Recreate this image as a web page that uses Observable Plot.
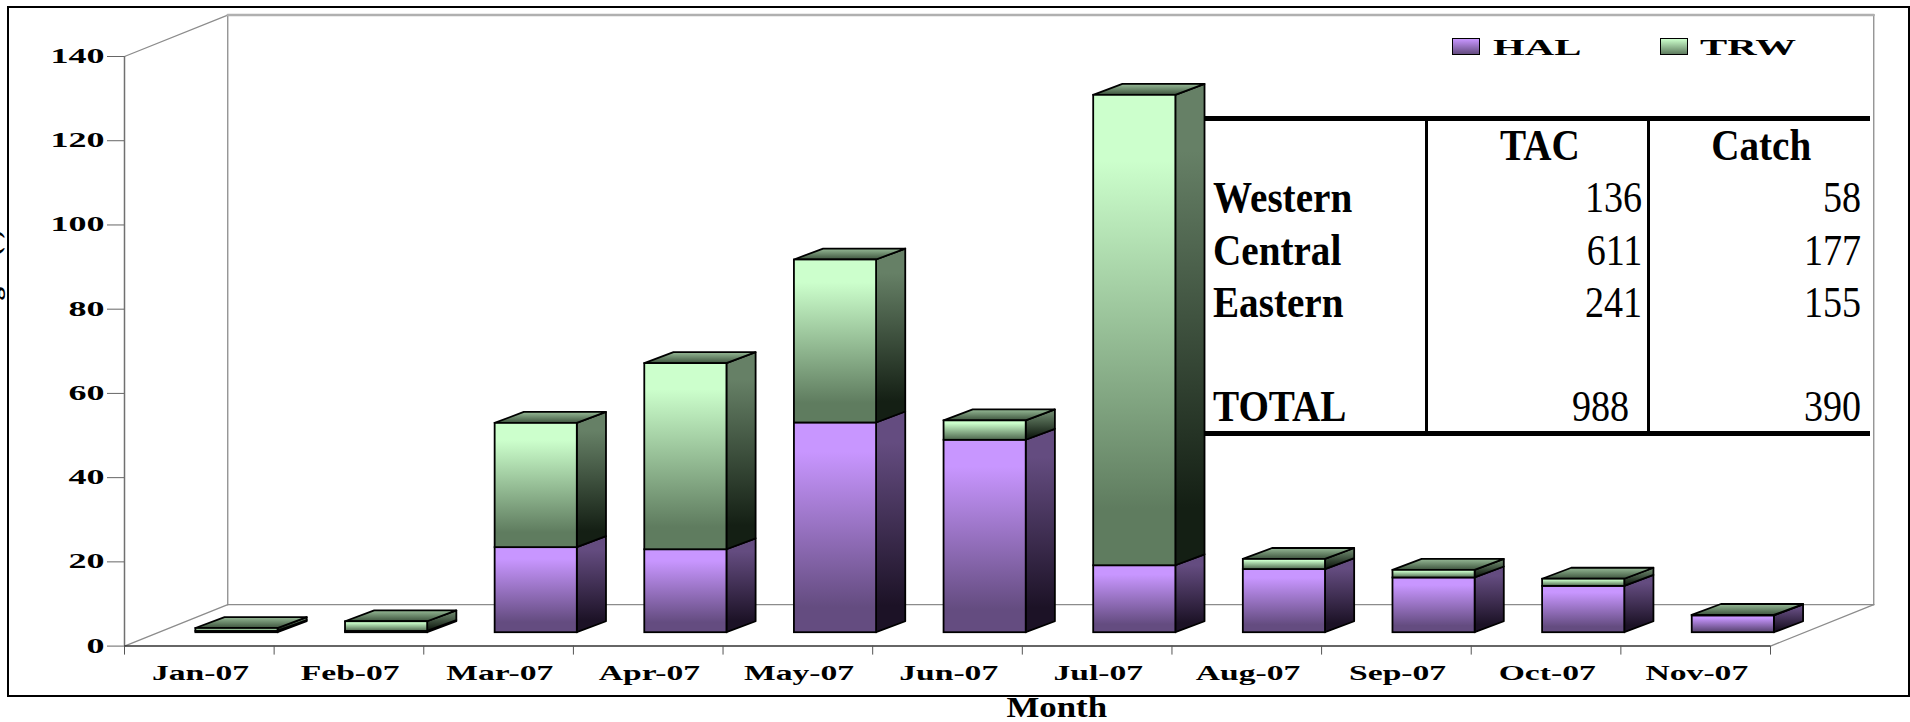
<!DOCTYPE html>
<html>
<head>
<meta charset="utf-8">
<script src="https://cdn.jsdelivr.net/npm/d3@7"></script>
<script src="https://cdn.jsdelivr.net/npm/@observablehq/plot@0.6"></script>
<style>
html,body{margin:0;padding:0;background:#fff;overflow:hidden}
#page{position:relative;width:1910px;height:722px;overflow:hidden}
#page svg{position:absolute;left:0;top:0}
#border{position:absolute;left:7px;top:6px;width:1899px;height:687px;border:2.5px solid #000;pointer-events:none}
.t{position:absolute;font-family:"Liberation Serif",serif;font-size:44px;line-height:44px;color:#000;white-space:nowrap;transform-origin:0 50%}
.rule{position:absolute;background:#000}
.lg{position:absolute;font-family:"Liberation Serif",serif;font-weight:bold;font-size:24px;line-height:24px;white-space:nowrap;transform-origin:0 50%}
.sw{position:absolute;width:26px;height:15px;border:1.5px solid #000}
</style>
</head>
<body>
<div id="page"></div>
<script>
const months = ["Jan-07","Feb-07","Mar-07","Apr-07","May-07","Jun-07","Jul-07","Aug-07","Sep-07","Oct-07","Nov-07"];
const hal = [0.3,0.3,20.2,19.7,49.8,45.7,15.9,15,13,11,4];
const trw = [0.7,2.3,29.5,44.2,38.7,4.6,111.7,2.4,1.8,1.7,0.1];
const series = ["HAL","TRW"];
const yTicks = [0,20,40,60,80,100,120,140];
const regions = ["Western","Central","Eastern","","TOTAL"];
const tac = ["136","611","241","","988"];
const catchT = ["58","177","155","","390"];

// depth projection, in data units of the chart's own scales
const wallDX = 0.69, wallDY = 9.83;
const barOffset = 0.477, barWidth = 0.549, barDX = 0.195, barDY = 2.6, barBase = 3.18;
const N = months.length;
const front = []; const side = []; const top_ = [];
months.forEach((m,i)=>{
  const x0 = i+barOffset, x1 = x0+barWidth;
  let lo = 0;
  [hal[i],trw[i]].forEach((v,s)=>{
    const a = barBase+lo, b = barBase+lo+v;
    front.push({s,x0,x1,a,b});
    side.push({id:`${i}-${s}`,s,x:x1,y1:a,y2:b});
    side.push({id:`${i}-${s}`,s,x:x1+barDX,y1:a+barDY,y2:b+barDY});
    lo += v;
  });
  const h = barBase+lo;
  top_.push({id:i,y:h,x1:x0,x2:x1});
  top_.push({id:i,y:h+barDY,x1:x0+barDX,x2:x1+barDX});
});
const wallGray = [
  [[0,140],[wallDX,140+wallDY]],
  [[0,0],[wallDX,wallDY]],
  [[wallDX,wallDY],[wallDX,140+wallDY]],
  [[wallDX,wallDY],[N+wallDX,wallDY]],
  [[N+wallDX,wallDY],[N+wallDX,140+wallDY]],
  [[N,0],[N+wallDX,wallDY]]
].flatMap((seg,k)=>seg.map(p=>({k,x:p[0],y:p[1]})));
const wallTop = [{x:wallDX,y:140+wallDY},{x:N+wallDX,y:140+wallDY}];

const stops = (id,a,b)=>`<linearGradient id="${id}" x1="0" y1="0" x2="0" y2="1"><stop offset="0" stop-color="${a}"/><stop offset="0.14" stop-color="${a}"/><stop offset="0.88" stop-color="${b}"/><stop offset="1" stop-color="${b}"/></linearGradient>`;
const defsMark = () => {
  const g = document.createElementNS("http://www.w3.org/2000/svg","g");
  g.innerHTML = `<defs>
  ${stops("f0","#c896ff","#644c80")}${stops("f1","#ccffcc","#5f7c5f")}
  ${stops("s0","#644c80","#1c1226")}${stops("s1","#668066","#141f14")}
  ${stops("tp","#8aac8a","#486048")}</defs>`;
  return g;
};
const serif = "Liberation Serif";
const plot = Plot.plot({
  width:1910,height:722,
  marginLeft:124,marginRight:140,marginTop:56,marginBottom:76.4,
  x:{type:"linear",domain:[0,N],range:[124,1770]},
  y:{type:"linear",domain:[0,140],range:[645.6,56]},
  style:{background:"transparent",fontFamily:serif},
  marks:[
    defsMark,
    Plot.text(["Landed catch weight (t)"],{y:66.5,frameAnchor:"left",rotate:-90,dx:-126,textAnchor:"middle",lineAnchor:"bottom",fontSize:27,fontWeight:"bold",fontFamily:serif}),
    Plot.line(wallGray,{x:"x",y:"y",z:"k",stroke:"#8c8c8c",strokeWidth:1.3}),
    Plot.line(wallTop,{x:"x",y:"y",stroke:"#b0b0b0",strokeWidth:2.5}),
    Plot.ruleX([0],{y1:0,y2:140,stroke:"#707070",strokeWidth:1.5}),
    Plot.ruleY([0],{x1:0,x2:N,stroke:"#333",strokeWidth:1.5}),
    Plot.axisY({ticks:yTicks,tickSize:17,tickPadding:3,label:null,fontSize:20,fontWeight:"bold",stroke:"#666",tickFormat:d=>d,className:"stretch-y"}),
    Plot.axisX({ticks:d3.range(0,N+1),tickSize:9,tickFormat:()=>"",label:null,stroke:"#555"}),
    Plot.axisX({ticks:months.map((m,i)=>i+0.508),tickSize:0,tickPadding:20,tickFormat:d=>months[Math.floor(d)],label:null,fontSize:20,fontWeight:"bold",className:"stretch-x"}),
    Plot.areaY(side.filter(d=>d.s===0),{x:"x",y1:"y1",y2:"y2",z:"id",fill:"url(#s0)",stroke:"#000",strokeWidth:1.8}),
    Plot.areaY(side.filter(d=>d.s===1),{x:"x",y1:"y1",y2:"y2",z:"id",fill:"url(#s1)",stroke:"#000",strokeWidth:1.8}),
    Plot.areaX(top_,{y:"y",x1:"x1",x2:"x2",z:"id",fill:"url(#tp)",stroke:"#000",strokeWidth:1.8}),
    Plot.rect(front.filter(d=>d.s===0),{x1:"x0",x2:"x1",y1:"a",y2:"b",fill:"url(#f0)",stroke:"#000",strokeWidth:1.8}),
    Plot.rect(front.filter(d=>d.s===1),{x1:"x0",x2:"x1",y1:"a",y2:"b",fill:"url(#f1)",stroke:"#000",strokeWidth:1.8}),
    Plot.text(["Month"],{x:6.23,frameAnchor:"bottom",dy:71,fontSize:30,fontWeight:"bold",fontFamily:serif,className:"stretch-m"})
  ]
});
const page = document.getElementById("page");
page.appendChild(plot);
const stretch = (sel,k)=>plot.querySelectorAll(sel).forEach(t=>{
  const l = t.getComputedTextLength();
  if(l>0){t.setAttribute("textLength",l*k);t.setAttribute("lengthAdjust","spacingAndGlyphs");}
});
stretch(".stretch-y text",1.8);
stretch(".stretch-x text",1.68);
stretch(".stretch-m text",1.16);

const border = document.createElement("div"); border.id="border"; page.appendChild(border);
const addRule=(l,t,w,h)=>{const d=document.createElement("div");d.className="rule";Object.assign(d.style,{left:l+"px",top:t+"px",width:w+"px",height:h+"px"});page.appendChild(d);};
addRule(1204,115.5,666,5);
addRule(1204,430.5,666,5);
addRule(1425,118,2.5,315);
addRule(1647,118,2.5,315);
const addT=(txt,x,yc,bold,anchor)=>{
  const d=document.createElement("div");d.className="t";d.textContent=txt;
  d.style.top=(yc-22)+"px";
  if(bold)d.style.fontWeight="bold";
  const sx=bold?0.89:0.865;
  const tf=`scale(${sx},1)`;
  if(anchor==="end"){d.style.right=(1910-x)+"px";d.style.transformOrigin="100% 50%";d.style.transform=tf;page.appendChild(d);}
  else if(anchor==="middle"){d.style.transformOrigin="50% 50%";d.style.transform=tf;page.appendChild(d);d.style.left=(x-d.offsetWidth/2)+"px";}
  else {d.style.left=x+"px";d.style.transform=tf;page.appendChild(d);}
};
addT("TAC",1540,146,true,"middle");
addT("Catch",1761,146,true,"middle");
const rowsY=[198,250.5,302.5,354.5,406.5];
regions.forEach((r,i)=>{
  if(r)addT(r,1213,rowsY[i],true,"start");
  if(tac[i])addT(tac[i],i===4?1629:1642,rowsY[i],false,"end");
  if(catchT[i])addT(catchT[i],1861,rowsY[i],false,"end");
});
const grad={HAL:"linear-gradient(#c896ff,#644c80)",TRW:"linear-gradient(#ccffcc,#5f7c5f)"};
[[1452,1493],[1660,1700]].forEach((p,i)=>{
  const s=document.createElement("div");s.className="sw";s.style.left=p[0]+"px";s.style.top="38px";s.style.background=grad[series[i]];page.appendChild(s);
  const t=document.createElement("div");t.className="lg";t.textContent=series[i];t.style.left=p[1]+"px";t.style.top="35px";t.style.transform="scale(1.7,1)";page.appendChild(t);
});
</script>
</body>
</html>
